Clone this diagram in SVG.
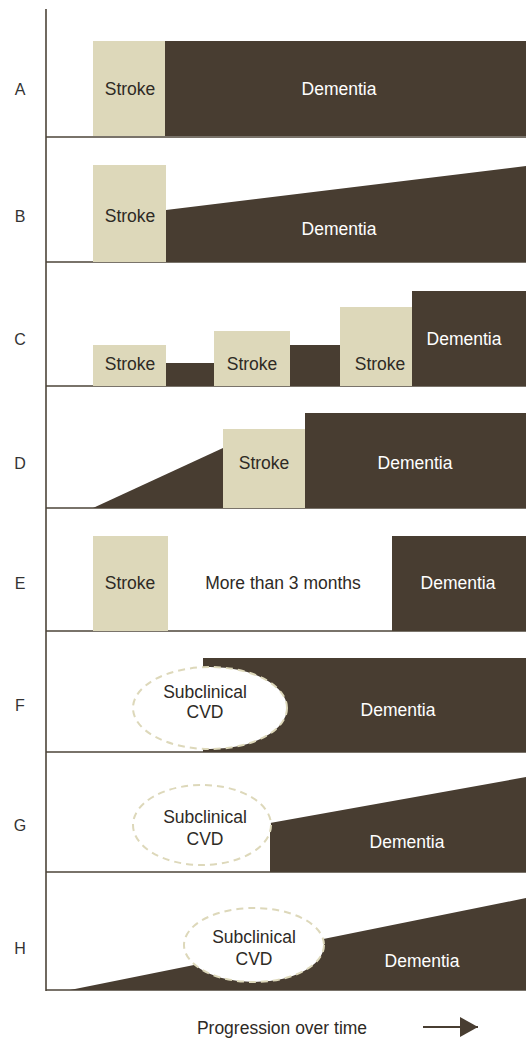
<svg xmlns="http://www.w3.org/2000/svg" width="526" height="1039" viewBox="0 0 526 1039">
<style>
text{font-family:"Liberation Sans",Arial,sans-serif;font-size:17.5px;text-anchor:middle}
.lbl{font-size:16px;fill:#333}
.dk{fill:#483d31}
.st{fill:#ddd8ba}
.tw{fill:#fff}
.tk{fill:#2e2a25}
.base{stroke:#4d4439;stroke-width:1.6;fill:none}
.cvd{fill:#fff;stroke:#ddd8ba;stroke-width:2;stroke-dasharray:7 5}
</style>
<defs>
<marker id="ah" markerWidth="18" markerHeight="20" refX="18" refY="10" orient="auto" markerUnits="userSpaceOnUse">
<path d="M0,0 L18,10 L0,20 Z" fill="#483d31"/>
</marker>
</defs>
<g id="axes">
<line class="base" x1="46" y1="9" x2="46" y2="991"/>
<line class="base" x1="46" y1="137" x2="526" y2="137"/>
<line class="base" x1="46" y1="262" x2="526" y2="262"/>
<line class="base" x1="46" y1="386" x2="526" y2="386"/>
<line class="base" x1="46" y1="508" x2="526" y2="508"/>
<line class="base" x1="46" y1="631" x2="526" y2="631"/>
<line class="base" x1="46" y1="752" x2="526" y2="752"/>
<line class="base" x1="46" y1="872" x2="526" y2="872"/>
<line class="base" x1="46" y1="990" x2="526" y2="990"/>
</g>
<g id="panelA">
<text class="lbl" x="20" y="95">A</text>
<rect class="st" x="93" y="41" width="72" height="95"/>
<rect class="dk" x="165" y="41" width="361" height="95"/>
<text class="tk" x="130" y="95">Stroke</text>
<text class="tw" x="339" y="95">Dementia</text>
</g>
<g id="panelB">
<text class="lbl" x="20" y="222">B</text>
<rect class="st" x="93" y="165" width="73" height="97"/>
<polygon class="dk" points="166,210 526,166 526,262 166,262"/>
<text class="tk" x="130" y="222">Stroke</text>
<text class="tw" x="339" y="235">Dementia</text>
</g>
<g id="panelC">
<text class="lbl" x="20" y="345">C</text>
<rect class="st" x="93" y="345" width="73" height="41"/>
<rect class="dk" x="166" y="363" width="48" height="23"/>
<rect class="st" x="214" y="331" width="76" height="55"/>
<rect class="dk" x="290" y="345" width="50" height="41"/>
<rect class="st" x="340" y="307" width="72" height="79"/>
<rect class="dk" x="412" y="291" width="114" height="95"/>
<text class="tk" x="130" y="370">Stroke</text>
<text class="tk" x="252" y="370">Stroke</text>
<text class="tk" x="380" y="370">Stroke</text>
<text class="tw" x="464" y="345">Dementia</text>
</g>
<g id="panelD">
<text class="lbl" x="20" y="469">D</text>
<polygon class="dk" points="93,508 223,448 223,508"/>
<rect class="dk" x="305" y="413" width="221" height="95"/>
<rect class="st" x="223" y="429" width="82" height="79"/>
<text class="tk" x="264" y="469">Stroke</text>
<text class="tw" x="415" y="469">Dementia</text>
</g>
<g id="panelE">
<text class="lbl" x="20" y="589">E</text>
<rect class="st" x="93" y="536" width="75" height="95"/>
<rect class="dk" x="392" y="536" width="134" height="95"/>
<text class="tk" x="130" y="589">Stroke</text>
<text class="tk" x="283" y="589">More than 3 months</text>
<text class="tw" x="458" y="589">Dementia</text>
</g>
<g id="panelF">
<text class="lbl" x="20" y="711">F</text>
<rect class="dk" x="203" y="658" width="323" height="94"/>
<ellipse class="cvd" cx="210" cy="708" rx="77" ry="41"/>
<text class="tk" x="205" y="698">Subclinical</text>
<text class="tk" x="205" y="718">CVD</text>
<text class="tw" x="398" y="716">Dementia</text>
</g>
<g id="panelG">
<text class="lbl" x="20" y="831">G</text>
<polygon class="dk" points="270,823 526,777 526,872 270,872"/>
<ellipse class="cvd" cx="202" cy="825" rx="69" ry="40"/>
<text class="tk" x="205" y="823">Subclinical</text>
<text class="tk" x="205" y="845">CVD</text>
<text class="tw" x="407" y="848">Dementia</text>
</g>
<g id="panelH">
<text class="lbl" x="20" y="954">H</text>
<polygon class="dk" points="70,990 526,898 526,990"/>
<ellipse class="cvd" cx="254" cy="945" rx="70" ry="37"/>
<text class="tk" x="254" y="943">Subclinical</text>
<text class="tk" x="254" y="965">CVD</text>
<text class="tw" x="422" y="967">Dementia</text>
</g>
<g id="connectors">
<text class="tk" x="282" y="1034">Progression over time</text>
<line x1="423" y1="1027" x2="478" y2="1027" stroke="#483d31" stroke-width="2" marker-end="url(#ah)"/>
</g>
</svg>
